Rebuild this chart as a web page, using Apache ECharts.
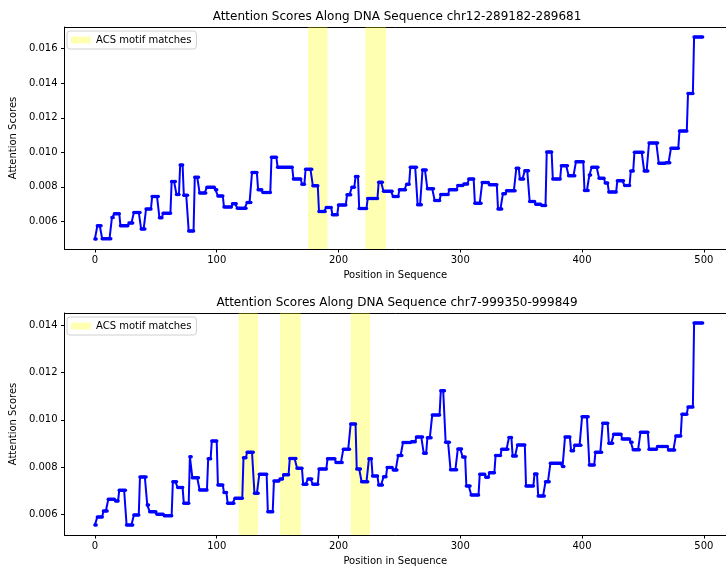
<!DOCTYPE html>
<html>
<head>
<meta charset="utf-8">
<script src="https://cdn.jsdelivr.net/npm/echarts@6/dist/echarts.min.js"></script>
<style>
  html, body { margin: 0; padding: 0; background: #fff; }
  #chart { width: 726px; height: 568px; }
</style>
</head>
<body>
<div id="chart"></div>
<script>
// Sequence length (positions 0..499)
const seqLength = 500;

// chr12-289182-289681: attention is constant over runs of positions.
// Each run starts at the given position and keeps its value until the next start.
const chr12RunStarts = [0, 2, 6, 14, 16, 21, 28, 32, 38, 42, 47, 53, 56, 63, 67, 70, 73, 77, 82, 86,
  92, 99, 101, 106, 113, 117, 125, 129, 134, 138, 145, 150, 163, 170, 173, 179, 184, 190, 195, 200,
  207, 211, 214, 217, 224, 233, 237, 245, 250, 256, 259, 265, 269, 273, 279, 284, 291, 298, 303, 307,
  312, 318, 324, 331, 335, 338, 346, 349, 353, 357, 362, 367, 371, 376, 383, 389, 395, 402, 406, 408,
  414, 419, 422, 429, 435, 440, 443, 451, 455, 463, 469, 473, 480, 487, 492];
const chr12RunValues = [0.00499, 0.00575, 0.00500, 0.00623, 0.00644, 0.00575, 0.00591, 0.00652, 0.00556, 0.00672,
  0.00744, 0.00621, 0.00648, 0.00831, 0.00756, 0.00927, 0.00752, 0.00545, 0.00856, 0.00764,
  0.00798, 0.00783, 0.00748, 0.00683, 0.00702, 0.00677, 0.00710, 0.00883, 0.00783, 0.00767,
  0.00971, 0.00914, 0.00846, 0.00816, 0.00902, 0.00806, 0.00658, 0.00681, 0.00639, 0.00695,
  0.00754, 0.00798, 0.00860, 0.00675, 0.00733, 0.00827, 0.00775, 0.00744, 0.00783, 0.00816,
  0.00914, 0.00696, 0.00898, 0.00789, 0.00721, 0.00756, 0.00783, 0.00808, 0.00817, 0.00845,
  0.00706, 0.00825, 0.00812, 0.00672, 0.00760, 0.00777, 0.00908, 0.00845, 0.00894, 0.00715,
  0.00700, 0.00693, 0.01002, 0.00846, 0.00923, 0.00865, 0.00946, 0.00779, 0.00869, 0.00914,
  0.00850, 0.00822, 0.00771, 0.00836, 0.00808, 0.00892, 0.01000, 0.00892, 0.01054, 0.00937,
  0.00940, 0.01023, 0.01123, 0.01340, 0.01667];
// ACS motif match intervals [start, end]
const chr12Motifs = [[175, 191], [222, 239]];

// chr7-999350-999849
const chr7RunStarts = [0, 2, 7, 11, 17, 20, 26, 32, 37, 43, 45, 51, 57, 64, 68, 73, 78, 80, 86, 93,
  96, 101, 106, 109, 115, 122, 125, 131, 135, 142, 147, 152, 155, 160, 166, 171, 175, 179, 184, 191,
  198, 204, 210, 215, 219, 225, 228, 233, 237, 240, 245, 249, 253, 260, 264, 270, 273, 277, 284, 288,
  292, 298, 302, 305, 309, 316, 321, 324, 329, 334, 340, 343, 347, 354, 361, 364, 370, 374, 384, 386,
  391, 394, 400, 406, 411, 417, 422, 426, 433, 440, 442, 448, 455, 462, 471, 477, 482, 487, 492];
const chr7RunValues = [0.00555, 0.00589, 0.00614, 0.00664, 0.00656, 0.00702, 0.00555, 0.00597, 0.00758, 0.00639,
  0.00611, 0.00600, 0.00594, 0.00738, 0.00713, 0.00647, 0.00844, 0.00755, 0.00703, 0.00835,
  0.00911, 0.00724, 0.00692, 0.00647, 0.00668, 0.00840, 0.00863, 0.00689, 0.00770, 0.00611,
  0.00741, 0.00750, 0.00767, 0.00836, 0.00795, 0.00727, 0.00750, 0.00727, 0.00792, 0.00835,
  0.00819, 0.00876, 0.00982, 0.00792, 0.00738, 0.00835, 0.00762, 0.00724, 0.00759, 0.00798,
  0.00788, 0.00849, 0.00904, 0.00907, 0.00927, 0.00859, 0.00924, 0.01021, 0.01123, 0.00905,
  0.00789, 0.00877, 0.00843, 0.00720, 0.00682, 0.00770, 0.00757, 0.00776, 0.00849, 0.00876,
  0.00925, 0.00847, 0.00894, 0.00720, 0.00771, 0.00678, 0.00738, 0.00816, 0.00802, 0.00927,
  0.00869, 0.00893, 0.01013, 0.00809, 0.00863, 0.00986, 0.00901, 0.00939, 0.00919, 0.00905,
  0.00873, 0.00948, 0.00876, 0.00887, 0.00872, 0.00932, 0.01024, 0.01055, 0.01410];
const chr7Motifs = [[118, 134], [152, 169], [210, 226]];

const xTicks = [0, 100, 200, 300, 400, 500];
const chr12YTicks = [0.006, 0.008, 0.010, 0.012, 0.014, 0.016];
const chr7YTicks = [0.006, 0.008, 0.010, 0.012, 0.014];

const titles = [
  'Attention Scores Along DNA Sequence chr12-289182-289681',
  'Attention Scores Along DNA Sequence chr7-999350-999849'
];

// Turn run-length values into one point per position.
function expandRuns(starts, values, length) {
  const out = [];
  let r = 0;
  for (let p = 0; p < length; p++) {
    while (r + 1 < starts.length && starts[r + 1] <= p) r++;
    out.push([p, values[r]]);
  }
  return out;
}

// 5% padding around the data range, like the default autoscale.
function paddedRange(lo, hi) {
  const pad = (hi - lo) * 0.05;
  return [lo - pad, hi + pad];
}

const FONT = 'DejaVu Sans';
const PLOT_LEFT = 62, PLOT_W = 664, PLOT_H = 222;
const panels = [
  { points: expandRuns(chr12RunStarts, chr12RunValues, seqLength), motifs: chr12Motifs, yTicks: chr12YTicks, top: 27 },
  { points: expandRuns(chr7RunStarts, chr7RunValues, seqLength), motifs: chr7Motifs, yTicks: chr7YTicks, top: 313 }
];

const grids = [], xAxes = [], topAxes = [], yAxes = [], series = [], legends = [], graphics = [];
// The plotted window runs off the right edge of the canvas; this is the part that stays visible.
const xMin = paddedRange(0, seqLength - 1)[0];
const xMax = 518.2;

panels.forEach((pn, i) => {
  const ys = pn.points.map(d => d[1]);
  const yRange = paddedRange(Math.min(...ys), Math.max(...ys));
  grids.push({ left: PLOT_LEFT, top: pn.top, width: PLOT_W, height: PLOT_H, show: false });
  xAxes.push({
    type: 'value', gridIndex: i, min: xMin, max: xMax, position: 'bottom',
    name: 'Position in Sequence', nameLocation: 'middle', nameGap: 21,
    nameTextStyle: { fontFamily: FONT, fontSize: 10, color: '#000' },
    axisLine: { show: true, onZero: false, lineStyle: { color: '#000', width: 1 } },
    axisTick: { show: true, length: 3.5, customValues: xTicks, lineStyle: { color: '#000' } },
    axisLabel: { show: true, customValues: xTicks, margin: 6, fontFamily: FONT, fontSize: 10, color: '#000',
      formatter: v => String(Math.round(v)) },
    splitLine: { show: false }
  });
  // Top frame line of the panel
  topAxes.push({
    type: 'value', gridIndex: i, min: xMin, max: xMax, position: 'top',
    axisLine: { show: true, onZero: false, lineStyle: { color: '#000', width: 1 } },
    axisTick: { show: false }, axisLabel: { show: false }, splitLine: { show: false }
  });
  yAxes.push({
    type: 'value', gridIndex: i, min: yRange[0], max: yRange[1],
    name: 'Attention Scores', nameLocation: 'middle', nameGap: 40, nameRotate: 90,
    nameTextStyle: { fontFamily: FONT, fontSize: 10, color: '#000' },
    axisLine: { show: true, onZero: false, lineStyle: { color: '#000', width: 1 } },
    axisTick: { show: true, length: 3.5, customValues: pn.yTicks, lineStyle: { color: '#000' } },
    axisLabel: { show: true, customValues: pn.yTicks, margin: 7, fontFamily: FONT, fontSize: 10, color: '#000',
      formatter: v => v.toFixed(3) },
    splitLine: { show: false }
  });
  // Highlighted motif intervals
  series.push({
    name: 'ACS motif matches', type: 'line', xAxisIndex: i, yAxisIndex: i, data: [], z: 1,
    itemStyle: { color: 'rgba(255,255,0,0.3)' },
    markArea: {
      silent: true,
      itemStyle: { color: 'rgba(255,255,0,0.3)' },
      data: pn.motifs.map(m => [{ xAxis: m[0] }, { xAxis: m[1] }])
    }
  });
  // Attention score trace
  series.push({
    name: 'Attention', type: 'line', xAxisIndex: i, yAxisIndex: i, data: pn.points, z: 3,
    symbol: 'circle', symbolSize: 3.5, showAllSymbol: true,
    itemStyle: { color: '#0000ff' },
    lineStyle: { color: '#0000ff', width: 2 }
  });
  legends.push({
    data: ['ACS motif matches'], left: 67, top: pn.top + 4, orient: 'vertical',
    icon: 'rect', itemWidth: 20, itemHeight: 7, itemGap: 6,
    padding: [4, 5, 4, 4], borderColor: '#d0d0d0', borderWidth: 1, borderRadius: 3,
    backgroundColor: 'rgba(255,255,255,0.8)',
    textStyle: { fontFamily: FONT, fontSize: 10, color: '#000' }
  });
  graphics.push({
    type: 'text', x: 397, y: pn.top - 10,
    style: { text: titles[i], font: '12px "DejaVu Sans"', fill: '#000', textAlign: 'center', textVerticalAlign: 'middle' }
  });
});

const chart = echarts.init(document.getElementById('chart'), null, { renderer: 'canvas' });
chart.setOption({
  animation: false,
  backgroundColor: '#fff',
  grid: grids, xAxis: xAxes.concat(topAxes), yAxis: yAxes, series: series, legend: legends, graphic: graphics
});
</script>
</body>
</html>
